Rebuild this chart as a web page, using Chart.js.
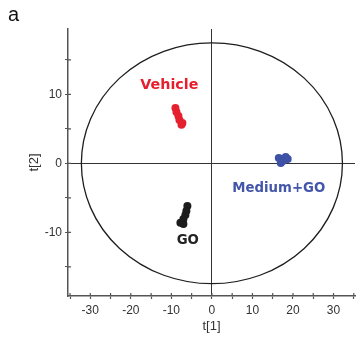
<!DOCTYPE html>
<html>
<head>
<meta charset="utf-8">
<script src="https://cdn.jsdelivr.net/npm/chart.js@4/dist/chart.umd.min.js"></script>
<style>
  html, body { margin: 0; padding: 0; background: #fff; }
  #wrap { width: 359px; height: 345px; position: relative; }
</style>
</head>
<body>
<div id="wrap"><canvas id="scores"></canvas></div>
<script>
// ── Score values t[1] / t[2] ─────────────────────────────────────
const vehicleX = [-9.0, -8.75, -8.26, -8.01, -7.28, -7.5];
const vehicleY = [ 8.0,  7.43,  6.86,  6.28,  5.84,  5.6];

const mediumGoX = [16.5, 17.5, 18.2, 18.7, 17.0];
const mediumGoY = [0.77, 0.33, 0.91, 0.62, 0.04];

const goX = [-6.05, -6.3, -6.54, -7.03, -7.77, -7.03];
const goY = [-6.2,  -6.9, -7.5,  -8.07, -8.6,  -8.8];

// group labels (data coords)
const groupNames  = ["Vehicle", "Medium+GO", "GO"];
const groupLabelX = [-10.5, 16.5, -5.95];
const groupLabelY = [11.35, -3.7, -11.26];
const groupColors = ["#e5212f", "#3d52a6", "#1c1c1c"];
const labelColors = ["#e51f2e", "#4256aa", "#222222"];

// axes
const xTicks = [-35, -30, -25, -20, -15, -10, -5, 0, 5, 10, 15, 20, 25, 30, 35];
const yTicks = [-15, -10, -5, 0, 5, 10, 15];
const X_MIN = -35.5, X_MAX = 35.3;
const Y_MIN = -19.23, Y_MAX = 19.46;

// Hotelling T2 ellipse half-axes
const ELLIPSE_A = 32.2;
const ELLIPSE_B = 17.45;

const toPts = (xs, ys) => xs.map((x, i) => ({ x, y: ys[i] }));

// ── Ellipse, crossing tick marks, group labels, panel letter ─────
const decorations = {
  id: "decorations",
  beforeDatasetsDraw(chart) {
    const { ctx, scales: { x, y } } = chart;
    const cx = x.getPixelForValue(0), cy = y.getPixelForValue(0);
    const rx = x.getPixelForValue(ELLIPSE_A) - cx;
    const ry = cy - y.getPixelForValue(ELLIPSE_B);
    ctx.save();
    ctx.strokeStyle = "#1e1e1e";
    ctx.lineWidth = 1.3;
    ctx.beginPath();
    ctx.ellipse(cx, cy, rx, ry, 0, 0, Math.PI * 2);
    ctx.stroke();
    ctx.restore();
  },
  afterDraw(chart) {
    const { ctx, scales: { x, y }, chartArea } = chart;
    ctx.save();
    // inner half of the tick marks (they cross the axis line)
    ctx.strokeStyle = "#555";
    ctx.lineWidth = 1.2;
    ctx.beginPath();
    x.ticks.forEach(t => {
      const px = x.getPixelForValue(t.value);
      ctx.moveTo(px, chartArea.bottom);
      ctx.lineTo(px, chartArea.bottom - 3);
    });
    y.ticks.forEach(t => {
      const py = y.getPixelForValue(t.value);
      ctx.moveTo(chartArea.left, py);
      ctx.lineTo(chartArea.left + 3, py);
    });
    ctx.stroke();

    // group labels
    ctx.textAlign = "center";
    ctx.textBaseline = "middle";
    const sizes = [14.3, 13.3, 13.3];
    groupNames.forEach((name, i) => {
      ctx.font = `bold ${sizes[i]}px "DejaVu Sans", sans-serif`;
      ctx.fillStyle = labelColors[i];
      ctx.fillText(name, x.getPixelForValue(groupLabelX[i]), y.getPixelForValue(groupLabelY[i]));
    });

    // panel letter
    ctx.font = '20px "Liberation Sans", Arial, sans-serif';
    ctx.fillStyle = "#111";
    ctx.textAlign = "left";
    ctx.textBaseline = "alphabetic";
    ctx.fillText("a", 8, 21);
    ctx.restore();
  },
};

const tickFont = { family: "'Liberation Sans', Arial, sans-serif", size: 12 };
const zeroLine = c => (c.tick && c.tick.value === 0 ? "#333" : "rgba(0,0,0,0)");

new Chart(document.getElementById("scores"), {
  type: "scatter",
  data: {
    datasets: [
      { label: "Vehicle",   data: toPts(vehicleX, vehicleY),   backgroundColor: groupColors[0] },
      { label: "Medium+GO", data: toPts(mediumGoX, mediumGoY), backgroundColor: groupColors[1] },
      { label: "GO",        data: toPts(goX, goY),             backgroundColor: groupColors[2] },
    ],
  },
  options: {
    responsive: true,
    maintainAspectRatio: false,
    animation: false,
    elements: { point: { radius: 4, borderWidth: 0, hoverRadius: 4 } },
    layout: { padding: { top: 29, right: 2.3, left: 0, bottom: 0 } },
    plugins: { legend: { display: false }, tooltip: { enabled: false } },
    scales: {
      x: {
        type: "linear",
        min: X_MIN, max: X_MAX,
        afterBuildTicks: s => { s.ticks = xTicks.map(v => ({ value: v })); },
        afterFit: s => { s.height = 49; },
        ticks: {
          autoSkip: false, maxRotation: 0,
          color: "#333", font: tickFont, padding: 4,
          callback: v => (v % 10 === 0 ? String(v) : ""),
        },
        grid: { color: zeroLine, lineWidth: 1, tickColor: "#555", tickLength: 3, tickWidth: 1.2 },
        border: { display: true, color: "#555", width: 1.5 },
        title: {
          display: true, text: "t[1]", color: "#333",
          font: { family: "'Liberation Sans', Arial, sans-serif", size: 13 },
          padding: { top: 0, bottom: 11 },
        },
      },
      y: {
        type: "linear",
        min: Y_MIN, max: Y_MAX,
        afterBuildTicks: s => { s.ticks = yTicks.map(v => ({ value: v })); },
        afterFit: s => { s.width = 68; },
        ticks: {
          autoSkip: false,
          color: "#333", font: tickFont, padding: 3,
          callback: v => (v % 10 === 0 ? String(v) : ""),
        },
        grid: { color: zeroLine, lineWidth: 1, tickColor: "#555", tickLength: 3, tickWidth: 1.2 },
        border: { display: true, color: "#555", width: 1.5 },
        title: {
          display: true, text: "t[2]", color: "#333",
          font: { family: "'Liberation Sans', Arial, sans-serif", size: 13 },
          padding: { top: 27, bottom: 0 },
        },
      },
    },
  },
  plugins: [decorations],
});
</script>
</body>
</html>
